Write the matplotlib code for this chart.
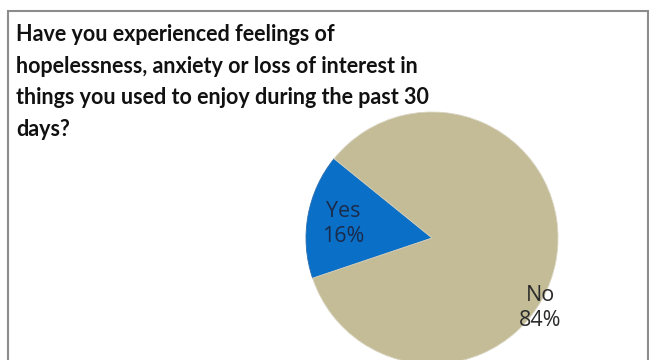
import matplotlib.pyplot as plt

# survey answers
answers = ["Yes", "No"]
shares = [16, 84]
colors = ["#0A6FC6", "#C4BC97"]
label_colors = ["#1B2B4B", "#2B2B2B"]

title = ("Have you experienced feelings of\n"
         "hopelessness, anxiety or loss of interest in\n"
         "things you used to enjoy during the past 30\n"
         "days?")

W, H = 649, 360
fig = plt.figure(figsize=(W / 100, H / 100), dpi=100)
ax = fig.add_axes([0, 0, 1, 1])

# chart frame (bottom edge falls below the image)
ax.plot([8, 8, 648, 648], [-5, H - 11, H - 11, -5], color="#8C8C8C", lw=1.5,
        solid_joinstyle="miter")

cx, cy, r = 432, H - 238, 126
wedges, _ = ax.pie(shares, colors=colors, startangle=141, counterclock=True,
                   center=(cx, cy), radius=r, frame=True,
                   wedgeprops=dict(linewidth=0.6, edgecolor="#D8D4C0"))
wedges[0].set_edgecolor("#2E6FB0")
ax.set_xlim(0, W)
ax.set_ylim(0, H)
ax.set_aspect("equal")
ax.axis("off")

# data labels
label_pos = [(343, H - 224), (540, H - 308)]
for name, val, (x, y), c in zip(answers, shares, label_pos, label_colors):
    ax.text(x, y, f"{name}\n{val}%", ha="center", va="center", color=c,
            fontsize=15.5, family="Open Sans", linespacing=1.2)

ax.text(16, H - 24, title, ha="left", va="top", fontsize=15.5,
        fontweight="bold", family="Lato", linespacing=1.62, color="#111111")

fig.savefig("out.png", dpi=100)
